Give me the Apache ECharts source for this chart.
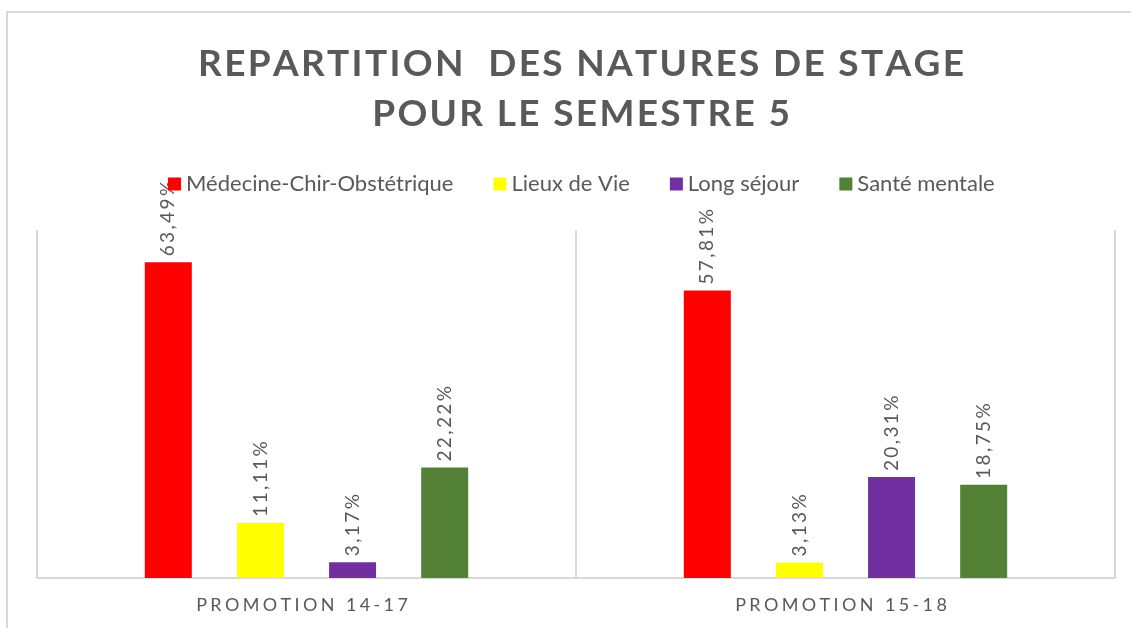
<!DOCTYPE html>
<html>
<head>
<meta charset="utf-8">
<script src="https://cdn.jsdelivr.net/npm/echarts@6/dist/echarts.min.js"></script>
<style>
  html, body { margin: 0; padding: 0; background: #fff; }
  #chart { width: 1131px; height: 628px; }
</style>
</head>
<body>
<div id="chart"></div>
<script>
// Promotions shown on the category axis
const promotions = ['PROMOTION 14-17', 'PROMOTION 15-18'];

// Share of each internship type, in percent, per promotion
const medecineChirObstetrique = [63.49, 57.81];
const lieuxDeVie = [11.11, 3.13];
const longSejour = [3.17, 20.31];
const santeMentale = [22.22, 18.75];

const seriesNames = ['Médecine-Chir-Obstétrique', 'Lieux de Vie', 'Long séjour', 'Santé mentale'];
const seriesColors = ['#ff0000', '#ffff00', '#7030a0', '#538135'];
const seriesValues = [medecineChirObstetrique, lieuxDeVie, longSejour, santeMentale];

const titleLines = ['REPARTITION  DES NATURES DE STAGE', 'POUR LE SEMESTRE 5'];

const textGrey = '#595959';
const lineGrey = '#d9d9d9';
const font = 'Lato';

// Spread the letters of a string with hair spaces
const HAIR = '\u200A';
const track = (s, n) => s.split('').join(HAIR.repeat(n || 1));

const chart = echarts.init(document.getElementById('chart'), null, { renderer: 'canvas' });

chart.setOption({
  animation: false,
  backgroundColor: '#ffffff',
  title: {
    text: titleLines.map(l => track(l, 1)).join('\n'),
    left: 576,
    top: 34,
    textAlign: 'center',
    textStyle: {
      fontFamily: font,
      fontWeight: 'bold',
      fontSize: 37,
      lineHeight: 50,
      color: textGrey
    }
  },
  legend: {
    top: 168,
    left: 163,
    itemWidth: 13,
    itemHeight: 13,
    itemGap: 40,
    icon: 'rect',
    textStyle: { fontFamily: font, fontSize: 22, color: textGrey },
    data: seriesNames
  },
  grid: { left: 37, right: 16, top: 230, bottom: 50, containLabel: false },
  xAxis: {
    type: 'category',
    data: promotions,
    axisLine: { lineStyle: { color: lineGrey, width: 2 } },
    axisTick: { show: false },
    splitLine: { show: true, lineStyle: { color: lineGrey, width: 2 } },
    axisLabel: {
      color: textGrey,
      fontFamily: font,
      fontSize: 18,
      margin: 18,
      formatter: v => track(v, 3) + HAIR.repeat(8)
    }
  },
  yAxis: {
    type: 'value',
    min: 0,
    max: 70,
    show: false,
    splitLine: { show: false }
  },
  graphic: [{
    type: 'polyline',
    silent: true,
    shape: { points: [[7, 628], [7, 12], [1131, 12]] },
    style: { stroke: lineGrey, lineWidth: 2, fill: null }
  }],
  series: seriesNames.map((name, i) => ({
    name: name,
    type: 'bar',
    data: seriesValues[i],
    barWidth: 47,
    barGap: '96%',
    itemStyle: { color: seriesColors[i] },
    label: {
      show: true,
      position: 'top',
      rotate: 90,
      align: 'left',
      verticalAlign: 'middle',
      distance: 6,
      color: textGrey,
      fontFamily: font,
      fontSize: 19,
      formatter: p => track(p.value.toFixed(2).replace('.', ',') + '%', 2)
    }
  }))
});
</script>
</body>
</html>
